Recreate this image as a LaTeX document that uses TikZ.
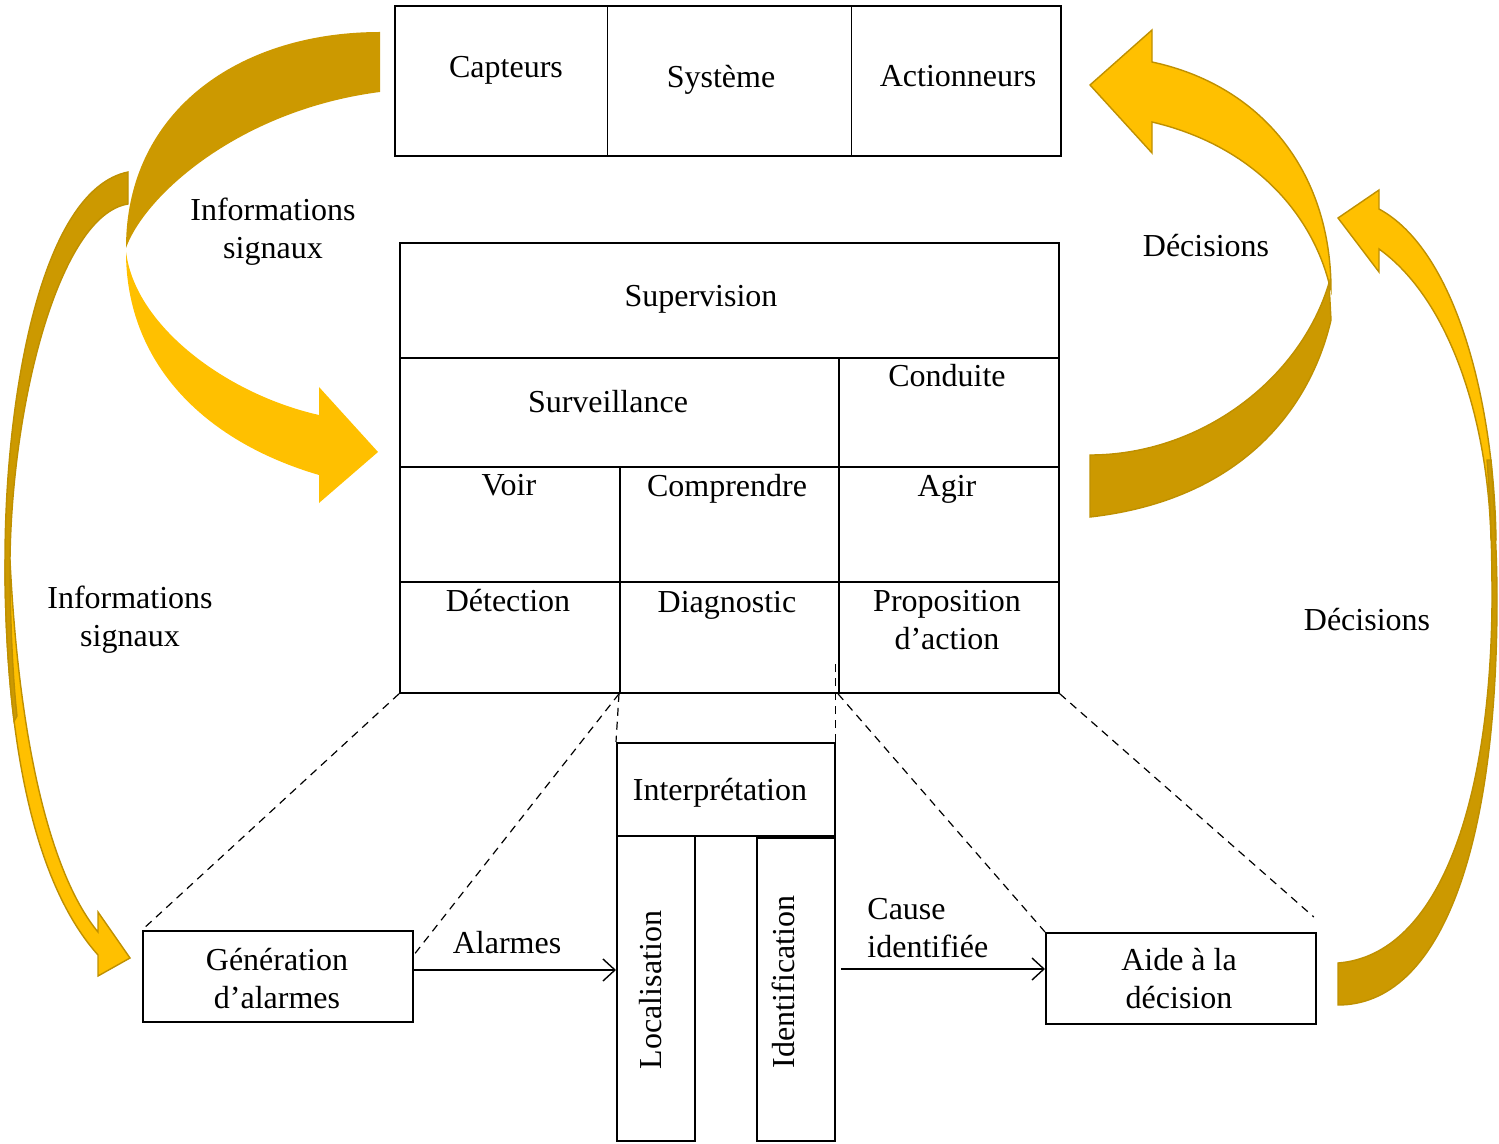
\documentclass[tikz,border=0pt]{standalone}
\usepackage{fontspec}
\setmainfont{Liberation Serif}
\usetikzlibrary{arrows.meta,calc}
\definecolor{GoldLight}{HTML}{FFC000}
\definecolor{GoldDark}{HTML}{CC9900}
\definecolor{GoldEdge}{HTML}{BF9000}

\tikzset{
  case/.style={draw, line width=0.9pt, inner sep=0pt, anchor=north west},
  txt/.style={font=\fontsize{16pt}{19pt}\selectfont, align=center, inner sep=0pt},
  lien/.style={dash pattern=on 4pt off 3pt, line width=0.6pt},
  fleche/.style={-{Straight Barb[length=6pt,width=11pt]}, line width=0.7pt},
  recto/.style={fill=GoldLight},
  verso/.style={fill=GoldDark},
  bord/.style={draw=GoldEdge, line width=0.7pt},
}
% case : nom, x, y (coin haut gauche), largeur, hauteur (en px)
\newcommand{\boite}[6][]{\node[case,#1,minimum width=#5*0.5pt,minimum height=#6*0.5pt] (#2) at (#3,#4) {};}

\begin{document}
\begin{tikzpicture}[x=0.5pt,y=-0.5pt]
\useasboundingbox (0,0) rectangle (1499,1144);

% fleches courbes
\path[verso] (380,32) .. controls (240,32) and (126,110) .. (126,248) .. controls (145,195) and (240,110) .. (380,92) -- cycle;
\path[recto] (126,252) .. controls (126,360) and (200,440) .. (319,475) -- (319,503) -- (378,452) -- (319,387) -- (319,415) .. controls (230,395) and (140,330) .. (127,258) -- cycle;

\path[recto,bord] (1152,62) .. controls (1260,85) and (1331,170) .. (1331,290) -- (1329,283) .. controls (1310,210) and (1250,145) .. (1152,122) -- (1152,153) -- (1090,85) -- (1152,30) -- cycle;
\path[verso,bord] (1090,455) .. controls (1200,455) and (1300,380) .. (1329,283) -- (1331,320) .. controls (1310,410) and (1240,500) .. (1090,517) -- cycle;

\path[recto,bord] (5,560) .. controls (5,760) and (40,890) .. (98,955) -- (98,976) -- (130,958) -- (98,912) -- (98,932) .. controls (55,880) and (20,760) .. (10,560) -- cycle;
\path[verso,bord] (128,172) .. controls (40,190) and (5,400) .. (5,560) .. controls (5,620) and (8.15,673.7) .. (14.1,721.2) -- (17,716) .. controls (12,670) and (10,610) .. (10,560) .. controls (12,400) and (60,215) .. (128,204) -- cycle;

\path[recto,bord] (1379,190) -- (1379,209) .. controls (1455,250) and (1494,400) .. (1496,540) -- (1491,540) .. controls (1488,420) and (1450,300) .. (1379,249) -- (1379,272) -- (1338,218) -- cycle;
\path[verso,bord] (1338,963) .. controls (1440,955) and (1491,800) .. (1492,600) .. controls (1492,540) and (1490,500) .. (1487,460) -- (1491,460) .. controls (1495,520) and (1497,560) .. (1497,600) .. controls (1497,850) and (1440,1005) .. (1338,1005) -- cycle;

% systeme
\boite[line width=0.6pt]{capt}{395}{6}{212}{149}
\boite[line width=0.6pt]{sys}{607}{6}{244}{149}
\boite[line width=0.6pt]{act}{851}{6}{209}{149}
\draw[line width=0.9pt] (capt.north west) rectangle (act.south east);
\node[txt] (tcapt) at (506,70) {Capteurs};
\node[txt] (tsys) at (721,80) {Système};
\node[txt] (tact) at (958,76) {Actionneurs};

% supervision
\boite{sup}{399}{242}{659}{115}
\boite{surv}{399}{357}{439}{109}
\boite{cond}{838}{357}{220}{109}
\boite{voir}{399}{466}{220}{115}
\boite{compr}{619}{466}{219}{115}
\boite{agir}{838}{466}{220}{115}
\boite{detec}{399}{581}{220}{111}
\boite{diag}{619}{581}{219}{111}
\boite{prop}{838}{581}{220}{111}
\node[txt] (tsup) at (701,299) {Supervision};
\node[txt] (tsurv) at (608,402) {Surveillance};
\node[txt] (tcond) at (947,376) {Conduite};
\node[txt] (tvoir) at (509,485) {Voir};
\node[txt] (tcompr) at (727,489) {Comprendre};
\node[txt] (tagir) at (947,489) {Agir};
\node[txt] (tdetec) at (508,601) {Détection};
\node[txt] (tdiag) at (727,605) {Diagnostic};
\node[txt] (tprop) at (947,620) {Proposition\\d’action};

% interpretation
\boite{interp}{616}{742}{218}{93}
\boite{loc}{616}{835}{78}{305}
\boite{ident}{756}{837}{78}{303}
\node[txt] (tinterp) at (720,793) {Interprétation};
\node[txt,rotate=90] (tloc) at (651,990) {Localisation};
\node[txt,rotate=90] (tident) at (783,982) {Identification};

% alarmes et aide
\boite{gen}{142}{930}{270}{91}
\boite{aide}{1045}{932}{270}{91}
\node[txt] (tgen) at (277,979) {Génération\\d’alarmes};
\node[txt] (taide) at (1179,979) {Aide à la\\décision};

% liens pointilles
\draw[lien] (detec.south west) -- (gen.north west);
\draw[lien] (diag.south west) -- ($(gen.north east)+(0,25)$);
\draw[lien] (diag.south west) -- (interp.north west);
\draw[lien] (interp.north east) -- (interp.north east |- 0,660);
\draw[lien] (prop.south west) -- (aide.north west);
\draw[lien] (prop.south east) -- ($(aide.north east)+(-3,-15)$);

% fleches
\draw[fleche] (gen.east |- 0,970) -- (loc.west |- 0,970);
\draw[fleche] ($(ident.east |- 0,969)+(5,0)$) -- (aide.west |- 0,969);

% etiquettes
\node[txt] (info1) at (273,232) {Informations\\signaux};
\node[txt] (info2) at (130,620) {Informations\\signaux};
\node[txt] (dec1) at (1206,246) {Décisions};
\node[txt] (dec2) at (1367,620) {Décisions};
\node[txt] (alarm) at (507,943) {Alarmes};
\node[txt,align=left,anchor=west] (cause) at (867,928) {Cause\\identifiée};
\end{tikzpicture}
\end{document}
